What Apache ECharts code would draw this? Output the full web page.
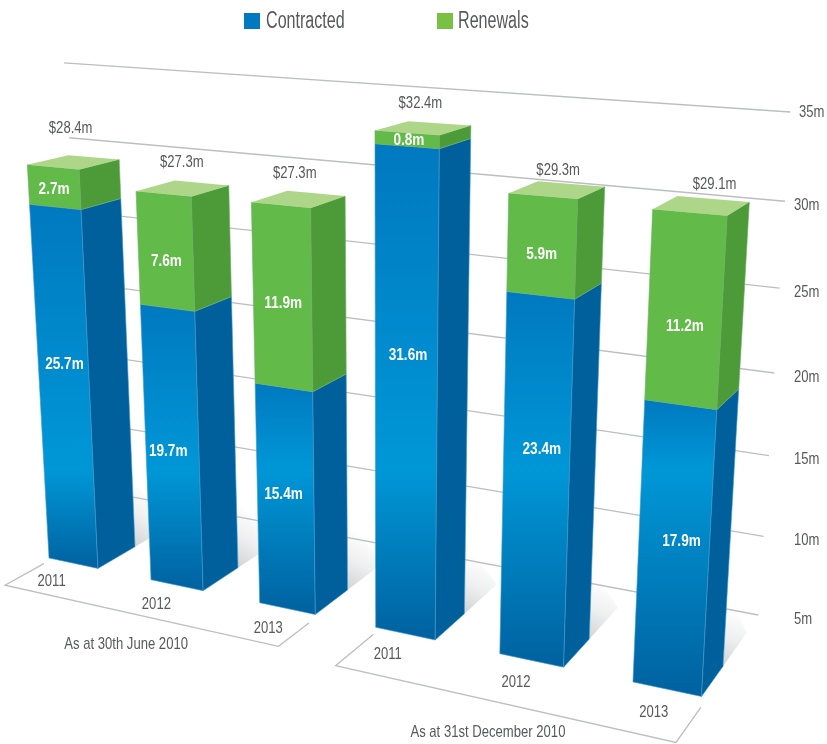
<!DOCTYPE html>
<html>
<head>
<meta charset="utf-8">
<style>html,body{margin:0;padding:0;background:#fff}#chart{width:827px;height:744px}</style>
<script src="https://cdn.jsdelivr.net/npm/echarts@6/dist/echarts.min.js"></script>
</head>
<body>
<div id="chart"></div>
<script>
// Contracted and renewal revenue by year, at two reporting dates.
const categories = ['2011', '2012', '2013', '2011', '2012', '2013'];
const contracted = [25.7, 19.7, 15.4, 31.6, 23.4, 17.9];
const renewals = [2.7, 7.6, 11.9, 0.8, 5.9, 11.2];
const totals = [28.4, 27.3, 27.3, 32.4, 29.3, 29.1];
const tickValues = [5, 10, 15, 20, 25, 30, 35];
const groupNames = ['As at 30th June 2010', 'As at 31st December 2010'];
const seriesNames = ['Contracted', 'Renewals'];

// Hand placement of the value captions, as [dx, dy] from their default spots.
const contractedCaptionShift = [[0, -26], [-4, 2], [-2, -6], [2, -44], [6, -34], [8, -9]];
const renewalsCaptionShift = [[0, 2], [1, 10], [1, 6], [2, 1], [0, 8], [0, 16]];
const totalCaptionShift = [[-3, -10], [-1, -2], [-4, -2], [-3, -1], [1, 4], [13, 3]];

const AXIS_MAX = 35;
const FONT = '"Liberation Sans", Arial, sans-serif';
const GREY = '#58595b';
const TEXT_SIZE = 17;
const NARROW = 0.77;
const NARROW_BOLD = 0.8;
const NARROW_LEGEND = 0.7;

// Perspective camera: slot X along the floor, depth Z, axis fraction t.
function project(X, Z, t) {
  const d = 1 - 0.0307 * X + 0.0316 * Z - 0.0748 * t;
  return [
    (49 + 97.36 * X + 40.75 * Z - 28.74 * t) / d,
    (558 + 3.85 * X - 4.05 * Z - 497 * t) / d
  ];
}

// Back wall: the two vertical edges that the gridlines run between.
function wallLeft(t) {
  return [100 - 36 * t, (556.3 - 497.7 * t) / (1 - 0.0683 * t)];
}
function wallRight(t) {
  return [753 + 37.3 * t, (691.8 - 589.2 * t) / (1 - 0.0839 * t)];
}

const BAR_WIDTH = 0.488;
const floorBands = [
  { from: 0.036, to: 2.52, far: -1.17 },
  { from: 3.04, to: 5.53, far: -1.35 }
];

// Converts category index and value to camera inputs through the axes.
function slotOf(api, i) {
  return api.coord([i, 0])[0] / api.size([1, 0])[0] - 0.5;
}
function fractionOf(api, v) {
  const y0 = api.coord([0, 0])[1];
  const y1 = api.coord([0, AXIS_MAX])[1];
  return (y0 - api.coord([0, v])[1]) / (y0 - y1);
}

function poly(points, fill, stroke) {
  return {
    type: 'polygon',
    shape: { points },
    style: { fill, stroke: stroke || 'none', lineWidth: stroke ? 0.6 : 0 }
  };
}
// Text squeezed horizontally to a condensed look.
function label(text, x, y, fill, size, weight, align, squeeze) {
  return {
    type: 'text',
    x, y,
    scaleX: squeeze || NARROW,
    style: {
      text, x: 0, y: 0, fill,
      fontFamily: FONT, fontSize: size, fontWeight: weight || 'normal',
      align: align || 'center', verticalAlign: 'middle'
    }
  };
}

// One stacked segment: front and side faces, plus the lid when it is the top one.
function renderSegment(api, from, to, faces, text, shift, lid) {
  const i = api.value(0);
  const X = slotOf(api, i);
  const t0 = fractionOf(api, from);
  const t1 = fractionOf(api, to);
  const fl0 = project(X, 0, t0), fr0 = project(X + BAR_WIDTH, 0, t0), sr0 = project(X + BAR_WIDTH, 1, t0);
  const fl1 = project(X, 0, t1), fr1 = project(X + BAR_WIDTH, 0, t1), sr1 = project(X + BAR_WIDTH, 1, t1);
  const children = [
    poly([fl0, fr0, fr1, fl1], faces.front(fl1[1], fr0[1]), faces.edge),
    poly([fr0, sr0, sr1, fr1], faces.side, faces.edge)
  ];
  if (lid) {
    children.push(poly([fl1, fr1, sr1, project(X, 1, t1)], faces.lid));
  }
  const mid = project(X + BAR_WIDTH / 2, 0, (t0 + t1) / 2);
  children.push(label(text, mid[0] + shift[0], mid[1] + shift[1], '#ffffff', TEXT_SIZE, 'bold', 'center', NARROW_BOLD));
  if (lid) {
    const c = project(X + BAR_WIDTH / 2, 0.5, t1);
    const s = totalCaptionShift[i];
    children.push(label('$' + totals[i].toFixed(1) + 'm', c[0] + s[0], c[1] - 24 + s[1], GREY, TEXT_SIZE));
  }
  return { type: 'group', children };
}

const blueFaces = {
  side: '#00609c',
  edge: '#3f9bcf',
  // The bright band sits at a common height across the bars.
  front(top, bottom) {
    const peak = Math.min(0.8, Math.max(0.12, (470 - top) / (bottom - top)));
    return new echarts.graphic.LinearGradient(0, 0, 0, 1, [
      { offset: 0, color: '#0079bf' },
      { offset: peak, color: '#0097d7' },
      { offset: 1, color: '#00619f' }
    ]);
  }
};
const greenFaces = {
  side: '#4d9a38',
  lid: '#aed688',
  edge: '#6fb06a',
  front() { return '#62ba48'; }
};

const wallSeries = {
  type: 'custom',
  name: 'wall',
  silent: true,
  z: 1,
  data: tickValues.map(v => [0, v]),
  renderItem(params, api) {
    const v = api.value(1);
    const t = fractionOf(api, v);
    const a = wallLeft(t), b = wallRight(t);
    const nudge = v === AXIS_MAX ? 5 : 0;
    return {
      type: 'group',
      children: [
        { type: 'line', shape: { x1: a[0], y1: a[1], x2: b[0], y2: b[1] },
          style: { stroke: '#bcbec0', lineWidth: 1.3 } },
        label(v + 'm', 794 + nudge, b[1] + (v === AXIS_MAX ? 0 : 4), GREY, TEXT_SIZE, 'normal', 'left')
      ]
    };
  }
};

// Soft floor shadow to the right of each bar, fading out over the wall lines.
const shadowSeries = {
  type: 'custom',
  name: 'shadow',
  silent: true,
  z: 2,
  data: categories.map((c, i) => [i, 0]),
  renderItem(params, api) {
    const X = slotOf(api, api.value(0)) + BAR_WIDTH;
    const fill = new echarts.graphic.LinearGradient(0, 1, 0.75, 0.25, [
      { offset: 0, color: 'rgba(200,202,205,0.85)' },
      { offset: 0.5, color: 'rgba(200,202,205,0.3)' },
      { offset: 1, color: 'rgba(200,202,205,0)' }
    ]);
    return poly([project(X, 1, 0), project(X, 2.2, 0), project(X, 1, 0.14)], fill);
  }
};

const floorSeries = {
  type: 'custom',
  name: 'floor',
  silent: true,
  z: 2,
  data: categories.map((c, i) => [i, 0]),
  renderItem(params, api) {
    const i = api.value(0);
    const X = slotOf(api, i) + BAR_WIDTH / 2;
    const p = project(X, -0.55, 0);
    const children = [label(categories[i], p[0], p[1] + 6, GREY, TEXT_SIZE)];
    if (i % 3 === 0) {
      const band = floorBands[i / 3];
      const points = [
        project(band.from, -0.22, 0), project(band.from, band.far, 0),
        project(band.to, band.far, 0), project(band.to, -0.3, 0)
      ];
      children.push({ type: 'polyline', shape: { points },
        style: { stroke: '#bcbec0', lineWidth: 1.3, fill: 'none' } });
      const m = project((band.from + band.to) / 2, band.far, 0);
      children.push(label(groupNames[i / 3], m[0] - 10, m[1] + 30, GREY, TEXT_SIZE));
    }
    return { type: 'group', children };
  }
};

const contractedSeries = {
  type: 'custom',
  name: seriesNames[0],
  silent: true,
  z: 3,
  itemStyle: { color: '#0079c1' },
  data: contracted.map((v, i) => [i, v]),
  renderItem(params, api) {
    const v = api.value(1);
    return renderSegment(api, 0, v, blueFaces, v.toFixed(1) + 'm', contractedCaptionShift[api.value(0)], false);
  }
};

const renewalsSeries = {
  type: 'custom',
  name: seriesNames[1],
  silent: true,
  z: 4,
  itemStyle: { color: '#79c143' },
  data: renewals.map((v, i) => [i, v]),
  renderItem(params, api) {
    const i = api.value(0), v = api.value(1);
    return renderSegment(api, contracted[i], contracted[i] + v, greenFaces, v.toFixed(1) + 'm', renewalsCaptionShift[i], true);
  }
};

// The legend draws the swatches; its condensed captions are placed beside them.
function legendCaption(text, x) {
  return Object.assign(label(text, x, 22, GREY, 23, 'normal', 'left', NARROW_LEGEND), { silent: true });
}

const chart = echarts.init(document.getElementById('chart'), null, { renderer: 'canvas' });
chart.setOption({
  animation: false,
  backgroundColor: '#ffffff',
  grid: { left: 0, right: 0, top: 0, bottom: 0 },
  xAxis: { type: 'category', data: categories, show: false },
  yAxis: { type: 'value', min: 0, max: AXIS_MAX, interval: 5, show: false },
  legend: {
    data: seriesNames,
    left: 244,
    top: 13,
    padding: 0,
    icon: 'rect',
    itemWidth: 16,
    itemHeight: 16,
    itemGap: 177,
    selectedMode: false,
    formatter: () => '',
    textStyle: { fontFamily: FONT, fontSize: 22, color: GREY }
  },
  graphic: [legendCaption(seriesNames[0], 266), legendCaption(seriesNames[1], 458)],
  series: [wallSeries, shadowSeries, floorSeries, contractedSeries, renewalsSeries]
});
</script>
</body>
</html>
